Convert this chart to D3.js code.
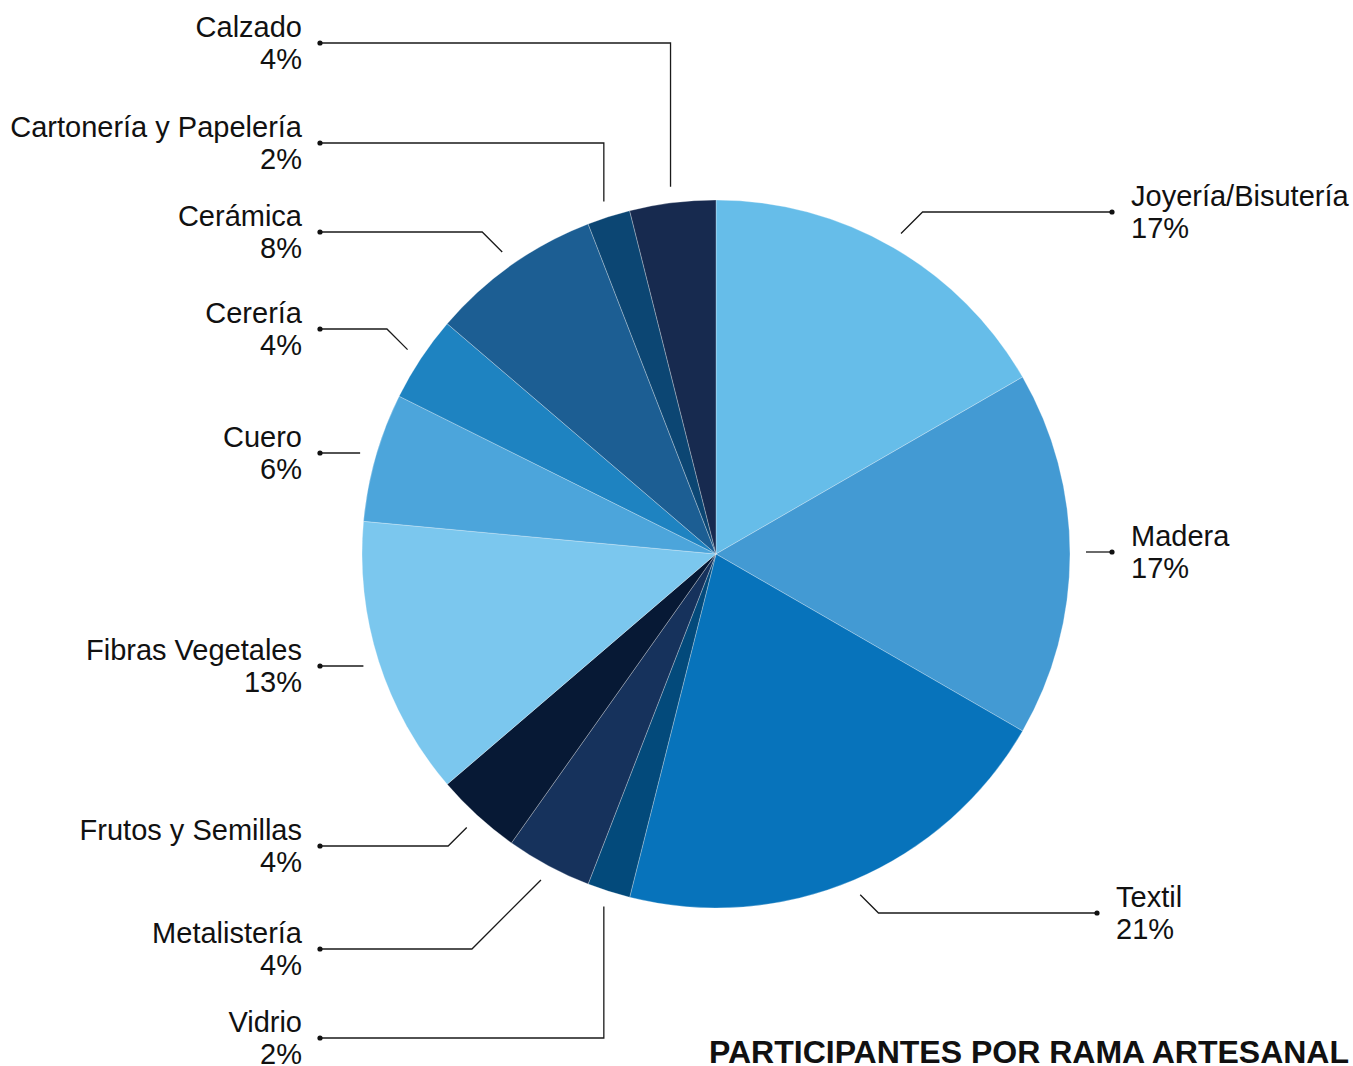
<!DOCTYPE html>
<html lang="es">
  <head>
    <meta charset="UTF-8" />
    <title>Participantes por rama artesanal</title>
    <script src="https://cdn.jsdelivr.net/npm/d3@7"></script>
    <style>
      body { margin: 0; background: #fff; }
      text { font-family: 'Liberation Sans', Arial, Helvetica, sans-serif; fill: #111; }
    </style>
  </head>
  <body>
    <svg width="1353" height="1066"></svg>
  </body>

  <script>
    // datos (clockwise from 12 o'clock)
    var categories = ['Joyería/Bisutería', 'Madera', 'Textil', 'Vidrio', 'Metalistería', 'Frutos y Semillas',
      'Fibras Vegetales', 'Cuero', 'Cerería', 'Cerámica', 'Cartonería y Papelería', 'Calzado'];
    var counts = [17, 17, 21, 2, 4, 4, 13, 6, 4, 8, 2, 4];
    var percentLabels = ['17%', '17%', '21%', '2%', '4%', '4%', '13%', '6%', '4%', '8%', '2%', '4%'];
    var colors = ['#66bde9', '#439ad3', '#0773bb', '#034a7b', '#16325c', '#071935',
      '#7bc7ee', '#4ca5db', '#1e83c1', '#1c5e93', '#0c4673', '#172a4f'];

    // label layout: y of the dot, how the leader bends
    var labelY = [212, 552, 913, 1038, 949, 846, 666, 453, 329, 232, 143, 43];
    var labelBend = ['d', 'h', 'd', 'v', 'd', 'd', 'h', 'h', 'd', 'd', 'v', 'v'];

    var svg = d3.select('svg');
    var cx = 716, cy = 554, radius = 354;
    var g = svg.append('g').attr('transform', 'translate(' + cx + ',' + cy + ')');

    var pie = d3.pie().sort(null).value(function (d) { return d; });
    var arcs = pie(counts);
    var arc = d3.arc().innerRadius(0).outerRadius(radius);
    var lineArc = d3.arc().innerRadius(370).outerRadius(370);

    // slices
    g.selectAll('path.slice')
      .data(arcs)
      .enter()
      .append('path')
      .attr('class', 'slice')
      .attr('d', arc)
      .attr('fill', function (d, i) { return colors[i]; })
      .attr('stroke', 'rgba(255,255,255,0.35)')
      .attr('stroke-width', 0.8);

    // leaders + labels
    var leftDotX = 320 - cx;
    var rightDotX = [1112 - cx, 1112 - cx, 1097 - cx];

    arcs.forEach(function (d, i) {
      var p = lineArc.centroid(d);
      var right = p[0] > 0;
      var ly = labelY[i] - cy;
      var dotX = right ? rightDotX[i] : leftDotX;
      var pts = [p];
      if (labelBend[i] === 'v') {
        pts.push([p[0], ly]);
      } else if (labelBend[i] === 'd') {
        var dy = Math.abs(ly - p[1]);
        pts.push([p[0] + (right ? dy : -dy), ly]);
      } else {
        pts[0] = [p[0], ly];
      }
      pts.push([dotX, ly]);

      g.append('path')
        .attr('d', d3.line()(pts))
        .attr('fill', 'none')
        .attr('stroke', '#1a1a1a')
        .attr('stroke-width', 1.3);

      g.append('circle')
        .attr('cx', dotX)
        .attr('cy', ly)
        .attr('r', 2.6)
        .attr('fill', '#111');

      var tx = right ? dotX + 19 : dotX - 18;
      var t = g.append('text')
        .attr('x', tx)
        .attr('y', ly - 6)
        .attr('text-anchor', right ? 'start' : 'end')
        .style('font-size', '29px');
      t.append('tspan').attr('x', tx).text(categories[i]);
      t.append('tspan').attr('x', tx).attr('dy', 32).text(percentLabels[i]);
    });

    // titulo
    svg.append('text')
      .attr('x', 1349)
      .attr('y', 1063)
      .attr('text-anchor', 'end')
      .style('font-size', '32px')
      .style('font-weight', 'bold')
      .text('PARTICIPANTES POR RAMA ARTESANAL');
  </script>
</html>
